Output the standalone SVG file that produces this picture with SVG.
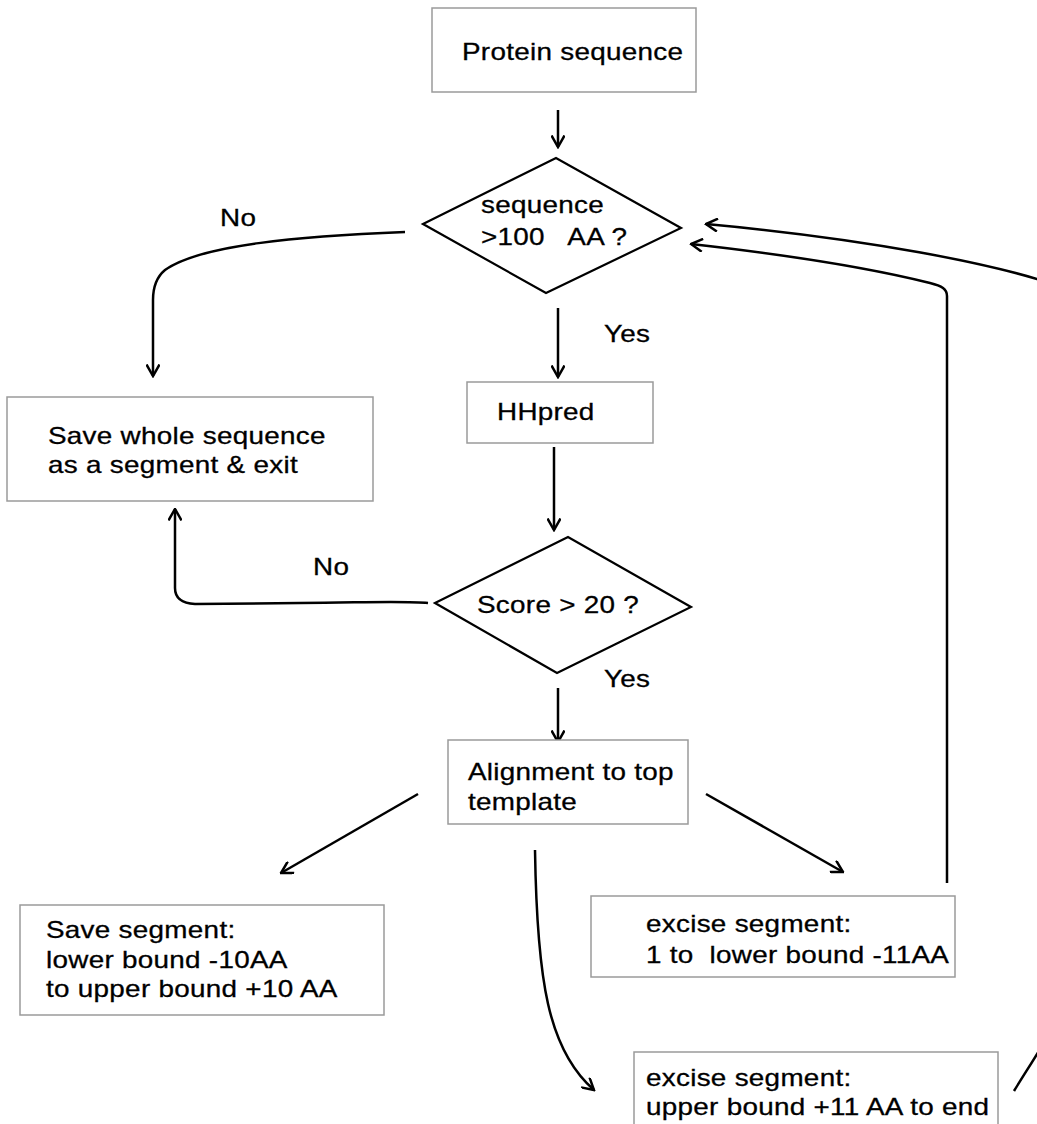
<svg xmlns="http://www.w3.org/2000/svg" width="1037" height="1124" viewBox="0 0 1037 1124">
<style>
.box{fill:#fff;stroke:#9a9a9a;stroke-width:1.5}
.dia{fill:#fff;stroke:#000;stroke-width:2.2}
.t{font-family:"Liberation Sans",Arial,sans-serif;font-size:24px;letter-spacing:0.25px;fill:#000;stroke:#000;stroke-width:0.3px;white-space:pre;transform-box:fill-box;transform-origin:0 0;transform:scaleX(1.16)}
.c{fill:none;stroke:#000;stroke-width:2.5;marker-end:url(#ah)}
</style>
<defs>
<marker id="ah" markerUnits="userSpaceOnUse" viewBox="0 0 14 14" refX="12.5" refY="7" markerWidth="14" markerHeight="14" orient="auto">
<path d="M1,0.5 L12.5,7 L1,13.5" fill="none" stroke="#000" stroke-width="2.5"/>
</marker>
</defs>
<rect width="1037" height="1124" fill="#fff"/>
<g id="connectors">
<path class="c" d="M558,110 L558,147"/>
<path class="c" d="M405,232 C300,236 200,245 165,270 Q153,280 153,300 L153,376"/>
<path class="c" d="M558,308 L558,377"/>
<path class="c" d="M554,447 L554,530"/>
<path class="c" d="M428,603 C410,601 390,602 300,603 L195,604 Q175,603 175,588 L175,509"/>
<path class="c" d="M558,688 L558,742"/>
<path class="c" d="M418,794 L281,873"/>
<path class="c" d="M706,794 L843,872"/>
<path class="c" d="M535,850 C537,980 548,1050 594,1090"/>
<path class="c" d="M947,883 L947,296 C947,289 942,286 930,283 C870,268 780,254 691,244"/>
<path class="c" d="M1014,1091 C1045,1040 1090,980 1090,900 L1090,320 C1090,300 1080,292 1037,279 C990,265 880,240 706,224"/>
</g>
<g id="n-protein">
<rect class="box" x="432" y="8" width="264" height="84"/>
<text class="t" x="462" y="60">Protein sequence</text>
</g>
<g id="n-len">
<polygon class="dia" points="423,224 556,158 681,228 546,293"/>
<text class="t" x="481" y="213">sequence</text>
<text class="t" x="481" y="245">&gt;100   AA ?</text>
</g>
<g id="labels">
<text class="t" x="220" y="226">No</text>
<text class="t" x="604" y="342">Yes</text>
<text class="t" x="313" y="575">No</text>
<text class="t" x="604" y="687">Yes</text>
</g>
<g id="n-whole">
<rect class="box" x="7" y="397" width="366" height="104"/>
<text class="t" x="48" y="444">Save whole sequence</text>
<text class="t" x="48" y="473">as a segment &amp; exit</text>
</g>
<g id="n-hhpred">
<rect class="box" x="467" y="382" width="186" height="61"/>
<text class="t" x="497" y="420">HHpred</text>
</g>
<g id="n-score">
<polygon class="dia" points="435,603 568,537 691,607 557,673"/>
<text class="t" x="477" y="613">Score &gt; 20 ?</text>
</g>
<g id="n-align">
<rect class="box" x="448" y="740" width="240" height="84"/>
<text class="t" x="468" y="780">Alignment to top</text>
<text class="t" x="468" y="810">template</text>
</g>
<g id="n-save">
<rect class="box" x="20" y="905" width="364" height="110"/>
<text class="t" x="46" y="938">Save segment:</text>
<text class="t" x="46" y="968">lower bound -10AA</text>
<text class="t" x="46" y="997">to upper bound +10 AA</text>
</g>
<g id="n-excise1">
<rect class="box" x="591" y="896" width="364" height="81"/>
<text class="t" x="646" y="932">excise segment:</text>
<text class="t" x="646" y="963">1 to  lower bound -11AA</text>
</g>
<g id="n-excise2">
<rect class="box" x="634" y="1052" width="364" height="100"/>
<text class="t" x="646" y="1086">excise segment:</text>
<text class="t" x="646" y="1115">upper bound +11 AA to end</text>
</g>
</svg>
